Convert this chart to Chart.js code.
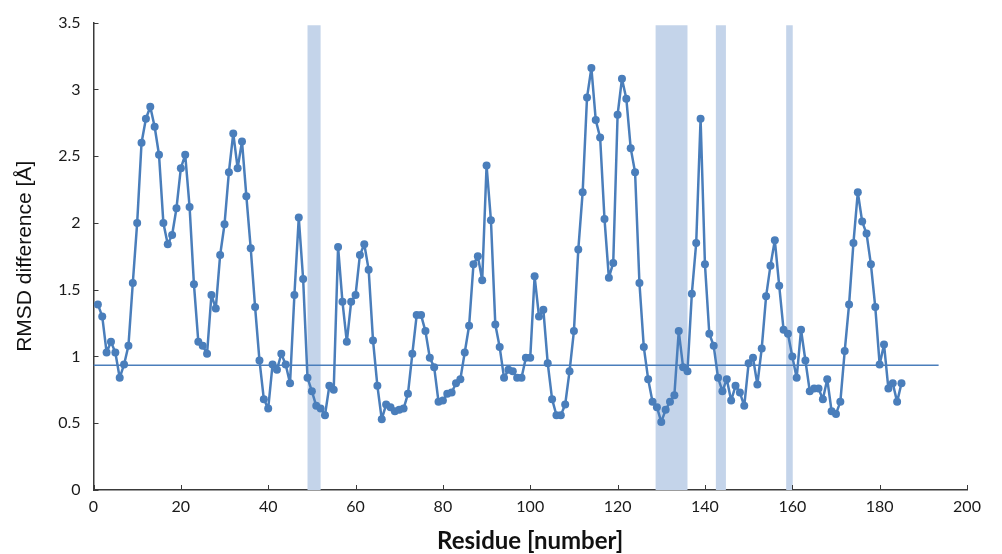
<!DOCTYPE html>
<html>
<head>
<meta charset="utf-8">
<script src="https://cdn.jsdelivr.net/npm/chart.js@4.4.1/dist/chart.umd.min.js"></script>
<style>
  html, body { margin: 0; padding: 0; background: #fff; }
  #rmsdChart { display: block; }
</style>
</head>
<body>
<canvas id="rmsdChart" width="1002" height="554"></canvas>
<script>
// RMSD difference per residue (residue 1..185)
const rmsdValues = [
  1.39, 1.30, 1.03, 1.11, 1.03, 0.84, 0.94, 1.08, 1.55, 2.00,
  2.60, 2.78, 2.87, 2.72, 2.51, 2.00, 1.84, 1.91, 2.11, 2.41,
  2.51, 2.12, 1.54, 1.11, 1.08, 1.02, 1.46, 1.36, 1.76, 1.99,
  2.38, 2.67, 2.41, 2.61, 2.20, 1.81, 1.37, 0.97, 0.68, 0.61,
  0.94, 0.90, 1.02, 0.94, 0.80, 1.46, 2.04, 1.58, 0.84, 0.74,
  0.63, 0.61, 0.56, 0.78, 0.75, 1.82, 1.41, 1.11, 1.41, 1.46,
  1.76, 1.84, 1.65, 1.12, 0.78, 0.53, 0.64, 0.62, 0.59, 0.60,
  0.61, 0.72, 1.02, 1.31, 1.31, 1.19, 0.99, 0.92, 0.66, 0.67,
  0.72, 0.73, 0.80, 0.83, 1.03, 1.23, 1.69, 1.75, 1.57, 2.43,
  2.02, 1.24, 1.07, 0.84, 0.90, 0.89, 0.84, 0.84, 0.99, 0.99,
  1.60, 1.30, 1.35, 0.95, 0.68, 0.56, 0.56, 0.64, 0.89, 1.19,
  1.80, 2.23, 2.94, 3.16, 2.77, 2.64, 2.03, 1.59, 1.70, 2.81,
  3.08, 2.93, 2.56, 2.38, 1.55, 1.07, 0.83, 0.66, 0.62, 0.51,
  0.60, 0.66, 0.71, 1.19, 0.92, 0.89, 1.47, 1.85, 2.78, 1.69,
  1.17, 1.08, 0.84, 0.74, 0.83, 0.67, 0.78, 0.73, 0.63, 0.95,
  0.99, 0.79, 1.06, 1.45, 1.68, 1.87, 1.53, 1.20, 1.17, 1.00,
  0.84, 1.20, 0.97, 0.74, 0.76, 0.76, 0.68, 0.83, 0.59, 0.57,
  0.66, 1.04, 1.39, 1.85, 2.23, 2.01, 1.92, 1.69, 1.37, 0.94,
  1.09, 0.76, 0.80, 0.66, 0.80
];
const firstResidue = 1;

// horizontal reference line
const refLevel = 0.935;
const refRange = [0, 193.5];

// shaded residue ranges
const bandStarts = [49, 128.7, 142.5, 158.6];
const bandEnds   = [52, 136.0, 144.8, 160.1];

// axis ticks
const xTicks = [0, 20, 40, 60, 80, 100, 120, 140, 160, 180, 200];
const yTicks = [0, 0.5, 1, 1.5, 2, 2.5, 3, 3.5];

const lineBlue = '#4a7ebb';
const bandBlue = '#c4d4ea';
const axisColor = '#3a3a3a';

const rmsdPoints = rmsdValues.map((v, i) => ({ x: firstResidue + i, y: v }));
const refPoints = refRange.map(x => ({ x: x, y: refLevel }));

// shaded bands behind the data
const bandPlugin = {
  id: 'bands',
  beforeDatasetsDraw(chart) {
    const { ctx, chartArea, scales } = chart;
    ctx.save();
    ctx.fillStyle = bandBlue;
    bandStarts.forEach((s, i) => {
      const x1 = scales.x.getPixelForValue(s);
      const x2 = scales.x.getPixelForValue(bandEnds[i]);
      const yTop = scales.y.getPixelForValue(3.48);
      ctx.fillRect(x1, yTop, x2 - x1, chartArea.bottom - yTop);
    });
    ctx.restore();
  }
};

// tick marks pointing inward
const innerTicks = {
  id: 'innerTicks',
  afterDraw(chart) {
    const { ctx, chartArea, scales } = chart;
    ctx.save();
    ctx.strokeStyle = axisColor;
    ctx.lineWidth = 1;
    scales.x.ticks.forEach(t => {
      const px = Math.round(scales.x.getPixelForValue(t.value)) + 0.5;
      ctx.beginPath();
      ctx.moveTo(px, chartArea.bottom);
      ctx.lineTo(px, chartArea.bottom - 5);
      ctx.stroke();
    });
    scales.y.ticks.forEach(t => {
      const py = Math.round(scales.y.getPixelForValue(t.value)) + 0.5;
      ctx.beginPath();
      ctx.moveTo(chartArea.left, py);
      ctx.lineTo(chartArea.left + 5, py);
      ctx.stroke();
    });
    ctx.restore();
  }
};

new Chart(document.getElementById('rmsdChart'), {
  type: 'line',
  data: {
    datasets: [
      {
        data: refPoints,
        borderColor: lineBlue,
        borderWidth: 1.5,
        pointRadius: 0,
        order: 2
      },
      {
        data: rmsdPoints,
        borderColor: lineBlue,
        backgroundColor: lineBlue,
        borderWidth: 2.5,
        borderJoinStyle: 'round',
        pointRadius: 4,
        pointBorderWidth: 0,
        pointBackgroundColor: lineBlue,
        tension: 0,
        order: 1
      }
    ]
  },
  options: {
    responsive: false,
    animation: false,
    layout: { padding: { top: 19, right: 35, bottom: 0, left: 0 } },
    plugins: {
      legend: { display: false },
      tooltip: { enabled: false }
    },
    scales: {
      x: {
        type: 'linear',
        min: 0,
        max: 200,
        afterFit(scale) { scale.height = 64; },
        afterBuildTicks(scale) { scale.ticks = xTicks.map(v => ({ value: v })); },
        grid: { display: true, drawOnChartArea: false, drawTicks: false },
        border: { display: true, color: axisColor, width: 1.5 },
        ticks: {
          padding: 7,
          color: '#1a1a1a',
          font: { family: 'Lato', size: 16 },
          maxRotation: 0
        },
        title: {
          display: true,
          text: 'Residue [number]',
          color: '#111',
          font: { family: 'Lato', size: 24, weight: 'bold', lineHeight: 1.1 },
          padding: { top: 0, bottom: 0 }
        }
      },
      y: {
        min: 0,
        max: 3.5,
        afterFit(scale) { scale.width = 93.5; },
        afterBuildTicks(scale) { scale.ticks = yTicks.map(v => ({ value: v })); },
        grid: { display: true, drawOnChartArea: false, drawTicks: false },
        border: { display: true, color: axisColor, width: 1.5 },
        ticks: {
          padding: 13,
          color: '#1a1a1a',
          font: { family: 'Lato', size: 16 },
          callback: v => String(+v.toFixed(1))
        },
        title: {
          display: true,
          text: 'RMSD difference [Å]',
          color: '#111',
          font: { family: 'Liberation Sans', size: 21, lineHeight: 1.2 },
          padding: { top: 13, bottom: 0 }
        }
      }
    }
  },
  plugins: [bandPlugin, innerTicks]
});
</script>
</body>
</html>
